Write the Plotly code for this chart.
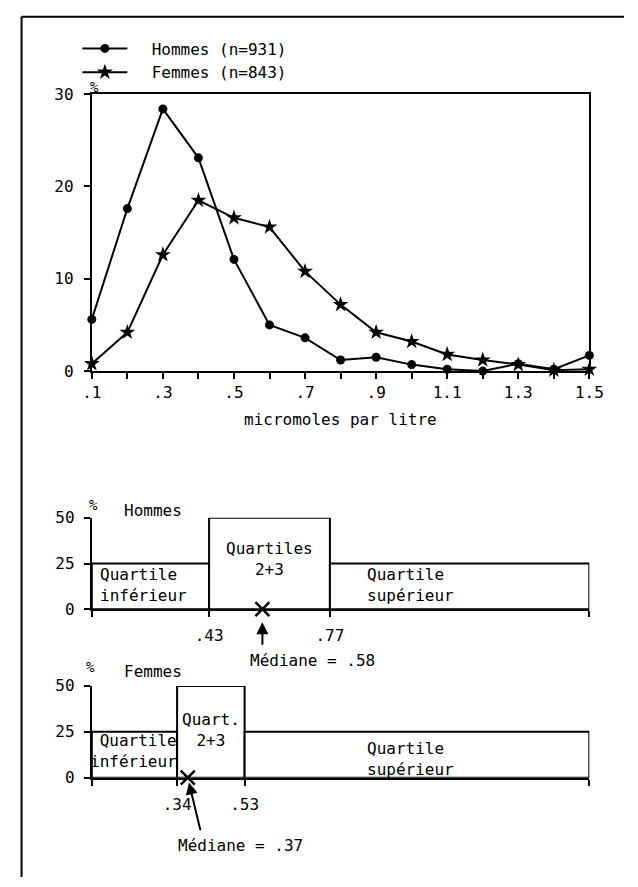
import plotly.graph_objects as go

# ---------------- data ----------------
x_vals = [0.1, 0.2, 0.3, 0.4, 0.5, 0.6, 0.7, 0.8, 0.9, 1.0, 1.1, 1.2, 1.3, 1.4, 1.5]
x_ticktext = [".1", "", ".3", "", ".5", "", ".7", "", ".9", "", "1.1", "", "1.3", "", "1.5"]
hommes = [5.6, 17.6, 28.4, 23.1, 12.1, 5.0, 3.6, 1.2, 1.5, 0.7, 0.2, 0.0, 0.8, 0.2, 1.7]
femmes = [0.8, 4.2, 12.6, 18.5, 16.6, 15.6, 10.8, 7.2, 4.2, 3.2, 1.8, 1.2, 0.7, 0.1, 0.2]
y_ticks_top = [0, 10, 20, 30]

x_min, x_max = 0.1, 1.5
quart_heights = [25, 50, 25]
y_ticks_q = [0, 25, 50]
hom_q1, hom_med, hom_q3 = 0.43, 0.58, 0.77
fem_q1, fem_med, fem_q3 = 0.34, 0.37, 0.53

# --------------- layout helpers ---------------
W, H = 638, 887
FONT = "DejaVu Sans Mono"
NB = "\u00a0"
def px(x):
    return x / W
def py(y):
    return 1 - y / H

fig = go.Figure()

# top chart lines
fig.add_trace(go.Scatter(x=x_vals, y=hommes, mode="lines+markers", name=NB * 2 + "Hommes (n=931)",
                         line=dict(color="black", width=2),
                         marker=dict(symbol="circle", size=9, color="black"),
                         cliponaxis=False, xaxis="x", yaxis="y"))
fig.add_trace(go.Scatter(x=x_vals, y=femmes, mode="lines+markers", name=NB * 2 + "Femmes (n=843)",
                         line=dict(color="black", width=2),
                         marker=dict(symbol="star", size=12, color="black"),
                         cliponaxis=False, xaxis="x", yaxis="y"))

def quart_bars(q1, q3, xa, ya):
    edges = [x_min, q1, q3, x_max]
    centers = [(edges[i] + edges[i + 1]) / 2 for i in range(3)]
    widths = [edges[i + 1] - edges[i] for i in range(3)]
    fig.add_trace(go.Bar(x=centers, y=quart_heights, width=widths,
                         marker=dict(color="white", line=dict(color="black", width=2)),
                         showlegend=False, xaxis=xa, yaxis=ya, hoverinfo="skip"))

quart_bars(hom_q1, hom_q3, "x2", "y2")
quart_bars(fem_q1, fem_q3, "x3", "y3")

fig.add_trace(go.Scatter(x=[hom_med], y=[0], mode="markers", showlegend=False,
                         marker=dict(symbol="x-thin", size=14, line=dict(color="black", width=2.5)),
                         cliponaxis=False, xaxis="x2", yaxis="y2"))
fig.add_trace(go.Scatter(x=[fem_med], y=[0], mode="markers", showlegend=False,
                         marker=dict(symbol="x-thin", size=14, line=dict(color="black", width=2.5)),
                         cliponaxis=False, xaxis="x3", yaxis="y3"))

xdom = [px(85), px(602)]
axis_common = dict(showline=True, linecolor="black", linewidth=2, ticks="outside",
                   tickcolor="black", tickwidth=2, ticklen=6, showgrid=False, zeroline=False,
                   tickfont=dict(family=FONT, size=16, color="black"))

fig.update_layout(
    width=W, height=H, margin=dict(l=0, r=0, t=0, b=0),
    paper_bgcolor="white", plot_bgcolor="white",
    font=dict(family=FONT, size=16, color="black"),
    barmode="overlay",
    xaxis=dict(domain=xdom, range=[x_min, x_max], tickvals=x_vals, ticktext=x_ticktext,
               mirror=True, anchor="y", ticklabelstandoff=0, **axis_common),
    yaxis=dict(domain=[py(370), py(87)], range=[0, 30], tickvals=y_ticks_top,
               mirror=True, anchor="x", ticklabelstandoff=7, **axis_common),
    xaxis2=dict(domain=xdom, range=[x_min, x_max], tickvals=[x_min, hom_q1, hom_q3, x_max],
                ticktext=["", ".43", ".77", ""], anchor="y2", ticklabelstandoff=5, **axis_common),
    yaxis2=dict(domain=[py(613.3), py(520)], range=[0, 50], tickvals=y_ticks_q,
                anchor="x2", ticklabelstandoff=6, **axis_common),
    xaxis3=dict(domain=xdom, range=[x_min, x_max], tickvals=[x_min, fem_q1, fem_q3, x_max],
                ticktext=["", ".34", ".53", ""], anchor="y3", ticklabelstandoff=5, **axis_common),
    yaxis3=dict(domain=[py(785.5), py(691.7)], range=[0, 50], tickvals=y_ticks_q,
                anchor="x3", ticklabelstandoff=6, **axis_common),
    legend=dict(x=px(70), y=py(23), xanchor="left", yanchor="top", itemwidth=45,
                bgcolor="rgba(0,0,0,0)", font=dict(family=FONT, size=16, color="black"),
                tracegroupgap=0),
)

# outer frame
fig.add_shape(type="line", xref="paper", yref="paper", x0=px(12), x1=px(12), y0=py(8), y1=py(887),
              line=dict(color="black", width=2))
fig.add_shape(type="line", xref="paper", yref="paper", x0=px(12), x1=px(638), y0=py(8), y1=py(8),
              line=dict(color="black", width=2))

def ptext(x, y, text, size=16, xanchor="center"):
    fig.add_annotation(xref="paper", yref="paper", x=px(x), y=py(y), text=text, showarrow=False,
                       xanchor=xanchor, yanchor="middle", font=dict(family=FONT, size=size, color="black"))

ptext(88, 80, "%", size=14)
ptext(343.5, 419, "micromoles par litre")
ptext(87, 507, "%", size=14)
ptext(148.5, 512, "Hommes")
ptext(314, 666, "Médiane = .58")
ptext(84, 672, "%", size=14)
ptext(148.5, 677, "Femmes")
ptext(239, 855, "Médiane = .37")

def dtext(xa, ya, x, y, text, xanchor="center", align="center", xshift=0):
    fig.add_annotation(xref=xa, yref=ya, x=x, y=y, text=text, showarrow=False, xanchor=xanchor,
                       yanchor="middle", align=align, xshift=xshift,
                       font=dict(family=FONT, size=16, color="black"))

dtext("x2", "y2", x_min, 13.3, "Quartile<br>inférieur", xanchor="left", align="left", xshift=6)
dtext("x2", "y2", (hom_q1 + hom_q3) / 2, 27.5, "Quartiles<br>2+3")
dtext("x2", "y2", 0.87, 13.3, "Quartile<br>supérieur", xanchor="left", align="left")
dtext("x3", "y3", fem_q1, 14.7, "Quartile<br>inférieur", xanchor="right", align="right", xshift=2)
dtext("x3", "y3", (fem_q1 + fem_q3) / 2, 26, "Quart.<br>2+3")
dtext("x3", "y3", 0.87, 10.1, "Quartile<br>supérieur", xanchor="left", align="left")

# median arrows
fig.add_annotation(xref="x2", yref="y2", x=hom_med, y=0, text="", showarrow=True, ax=0, ay=37,
                   arrowhead=2, arrowsize=1.2, arrowwidth=2, arrowcolor="black", standoff=13)
fig.add_annotation(xref="x3", yref="y3", x=fem_med, y=0, text="", showarrow=True, ax=13, ay=54,
                   arrowhead=2, arrowsize=1.2, arrowwidth=2, arrowcolor="black", standoff=5)

fig.write_html("out.html", config={"displayModeBar": False},
               post_script="document.body.style.margin='0';document.body.style.overflow='hidden';")
